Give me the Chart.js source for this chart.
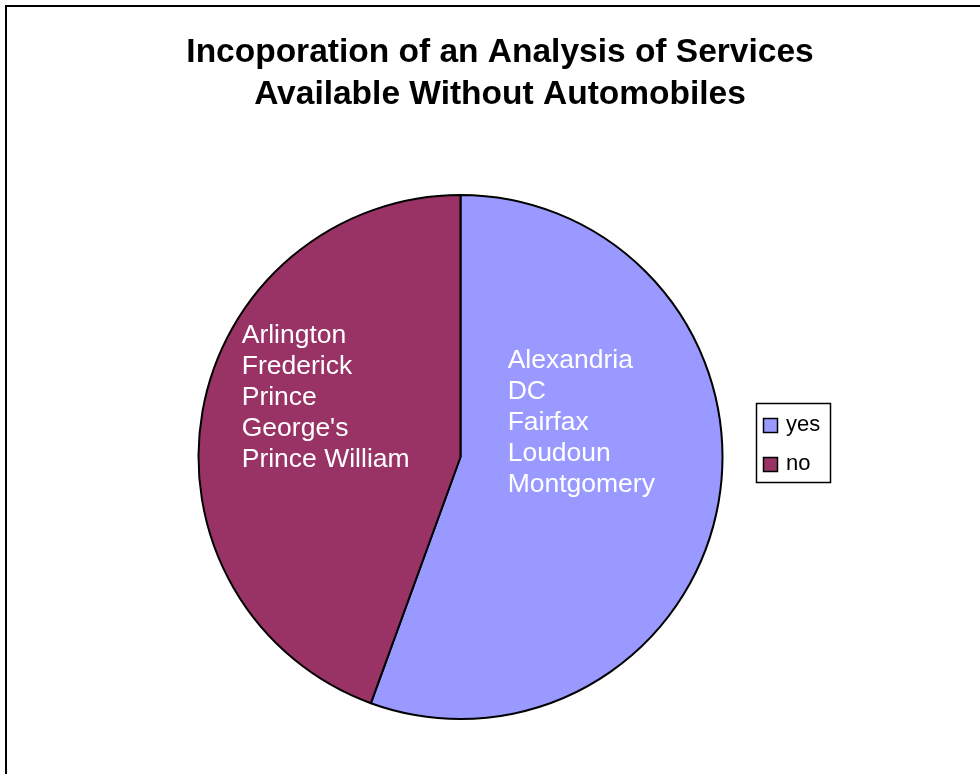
<!DOCTYPE html>
<html>
<head>
<meta charset="utf-8">
<script src="https://cdn.jsdelivr.net/npm/chart.js@4.4.1/dist/chart.umd.min.js"></script>
<style>
    html, body { margin: 0; padding: 0; background: #fff; overflow: hidden; }
    #frame { position: absolute; left: 5px; top: 5px; width: 1000px; height: 800px; border: 2px solid #000; box-sizing: border-box; }
    #wrap { position: absolute; left: 0; top: 0; width: 980px; height: 774px; }
</style>
</head>
<body>
<div id="frame"></div>
<div id="wrap"><canvas id="myChart" width="980" height="774"></canvas></div>
<script>
const titleLines = ['Incoporation of an Analysis of Services', 'Available Without Automobiles'];
const categories = ['yes', 'no'];
const counts = [5, 4];
const sliceColors = ['#9999FF', '#993366'];
const countyLists = [
    ['Alexandria', 'DC', 'Fairfax', 'Loudoun', 'Montgomery'],
    ['Arlington', 'Frederick', 'Prince', "George's", 'Prince William']
];

const FONT = '"Liberation Sans", Arial, sans-serif';

// title, county names inside the slices, and the boxed legend
const decorations = {
    id: 'decorations',
    afterDraw(chart) {
        const ctx = chart.ctx;
        ctx.save();

        ctx.fillStyle = '#000';
        ctx.font = 'bold 33.5px ' + FONT;
        ctx.textAlign = 'center';
        ctx.textBaseline = 'alphabetic';
        titleLines.forEach((line, i) => ctx.fillText(line, 500, 62 + i * 42));

        // slice labels, placed relative to the pie centre
        const arcs = chart.getDatasetMeta(0).data;
        const cx = arcs[0].x, cy = arcs[0].y, r = arcs[0].outerRadius;
        const anchors = [
            { dx: 0.18 * r, dy: -0.34 * r },
            { dx: -0.835 * r, dy: -0.435 * r }
        ];
        ctx.fillStyle = '#fff';
        ctx.font = '26.5px ' + FONT;
        ctx.textAlign = 'left';
        countyLists.forEach((names, k) => {
            names.forEach((name, i) => {
                ctx.fillText(name, cx + anchors[k].dx, cy + anchors[k].dy + i * 31);
            });
        });

        // legend
        ctx.strokeStyle = '#000';
        ctx.lineWidth = 1.5;
        ctx.strokeRect(756.5, 403.5, 74, 79);
        ctx.font = '22px ' + FONT;
        categories.forEach((cat, i) => {
            const y = 418 + i * 39;
            ctx.fillStyle = sliceColors[i];
            ctx.fillRect(763.5, y + 0.5, 14, 14);
            ctx.lineWidth = 1.5;
            ctx.strokeRect(763.5, y + 0.5, 14, 14);
            ctx.fillStyle = '#000';
            ctx.fillText(cat, 786, y + 13);
        });

        ctx.restore();
    }
};

const ctx = document.getElementById('myChart').getContext('2d');
const myChart = new Chart(ctx, {
    type: 'pie',
    data: {
        labels: categories,
        datasets: [{
            data: counts,
            backgroundColor: sliceColors,
            borderColor: '#000',
            borderWidth: 2
        }]
    },
    options: {
        responsive: false,
        animation: false,
        radius: 262,
        layout: { padding: { left: 190, right: 249, top: 190, bottom: 50 } },
        plugins: {
            legend: { display: false },
            tooltip: { enabled: false },
            title: { display: false }
        }
    },
    plugins: [decorations]
});
</script>
</body>
</html>
